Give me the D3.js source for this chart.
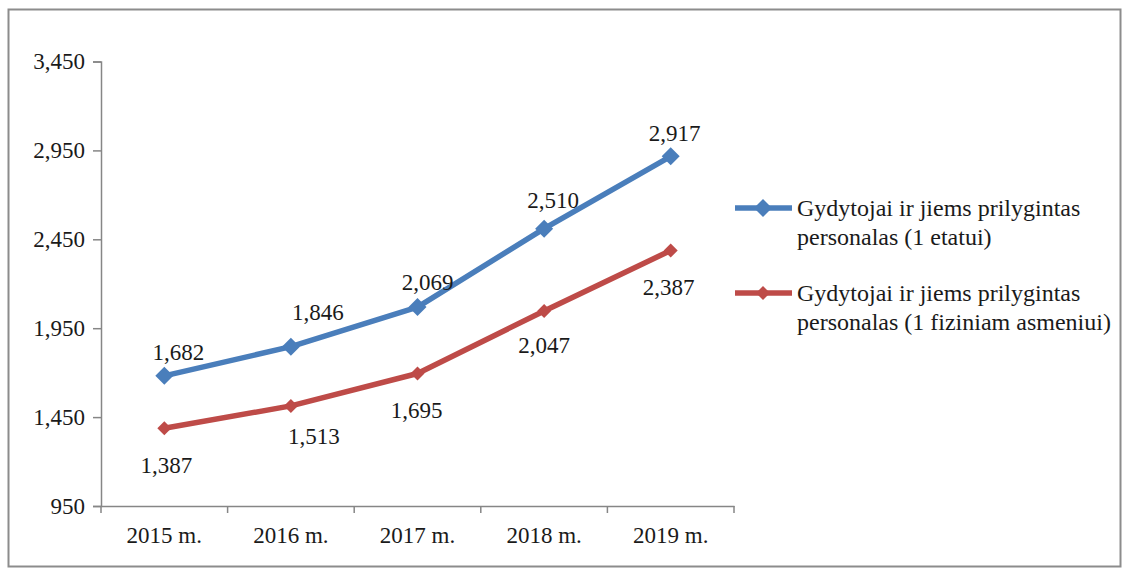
<!DOCTYPE html>
<html><head><meta charset="utf-8">
<script src="https://cdn.jsdelivr.net/npm/d3@7"></script>
<style>body{margin:0;background:#fff}svg{display:block}</style>
</head><body><svg id="c" width="1126" height="569"></svg>
<script>
const categories = ["2015 m.","2016 m.","2017 m.","2018 m.","2019 m."];
const seriesNames = ["Gydytojai ir jiems prilygintas personalas (1 etatui)","Gydytojai ir jiems prilygintas personalas (1 fiziniam asmeniui)"];
const etatui = [1682,1846,2069,2510,2917];
const fiziniam = [1387,1513,1695,2047,2387];
const yTicks = [950,1450,1950,2450,2950,3450];

const FONT = "'Liberation Serif'";
const svg = d3.select("#c");
const colors = ["#4A7EBB","#BE4B48"];
const fs = 23;
svg.append("rect").attr("x",8.5).attr("y",9.5).attr("width",1112).attr("height",557)
  .attr("fill","#fff").attr("stroke","#8c8c8c").attr("stroke-width",2);

const x = d3.scaleBand().domain(categories).range([101,734]);
const y = d3.scaleLinear().domain([950,3450]).range([506,61.5]);
const fmt = d3.format(",");

const axisCol = "#868686";
const gy = svg.append("g").attr("transform","translate(101,0)")
  .call(d3.axisLeft(y).tickValues(yTicks).tickFormat(fmt).tickSize(8).tickPadding(8));
const gx = svg.append("g").attr("transform","translate(0,506)")
  .call(d3.axisBottom(x).tickSize(0).tickPadding(20));
[gy,gx].forEach(g=>{
  g.attr("font-family",null).attr("font-size",null);
  g.select(".domain").attr("stroke",axisCol).attr("stroke-width",1.5);
  g.selectAll(".tick line").attr("stroke",axisCol).attr("stroke-width",1.5);
  g.selectAll("text").style("font-family",FONT).attr("font-size",fs).attr("fill","#1a1a1a");
});
gx.selectAll("text").attr("dy",null).attr("y",29).attr("dominant-baseline","central");
// category separator ticks
gx.selectAll(".sep").data(categories).join("line").attr("class","sep")
  .attr("x1",d=>x(d)+x.bandwidth()).attr("x2",d=>x(d)+x.bandwidth())
  .attr("y1",0).attr("y2",7).attr("stroke",axisCol).attr("stroke-width",1.5);
gx.append("line").attr("x1",101).attr("x2",101).attr("y1",0).attr("y2",7).attr("stroke",axisCol).attr("stroke-width",1.5);

const cx = d => x(d)+x.bandwidth()/2;
const series = [etatui, fiziniam];
const markerSize = [18,14];
const labelOff = [
  [[14,-23],[27,-34],[10,-25],[9,-28],[4,-23]],
  [[2,37],[23,31],[-1,37],[0,35],[-2,37]]
];
series.forEach((vals,si)=>{
  const pts = categories.map((c,i)=>[cx(c), y(vals[i])]);
  svg.append("path").attr("d",d3.line()(pts)).attr("fill","none")
    .attr("stroke",colors[si]).attr("stroke-width",5.5).attr("stroke-linejoin","round");
  const s = markerSize[si]/2;
  svg.selectAll(null).data(pts).join("path")
    .attr("d",p=>`M${p[0]},${p[1]-s}L${p[0]+s},${p[1]}L${p[0]},${p[1]+s}L${p[0]-s},${p[1]}Z`)
    .attr("fill",colors[si]);
  svg.selectAll(null).data(pts).join("text")
    .attr("x",(p,i)=>p[0]+labelOff[si][i][0]).attr("y",(p,i)=>p[1]+labelOff[si][i][1])
    .attr("text-anchor","middle").attr("dominant-baseline","central")
    .style("font-family",FONT).attr("font-size",fs).attr("fill","#1a1a1a")
    .text((p,i)=>fmt(vals[i]));
});

// legend
const legY = [208,293];
seriesNames.forEach((name,si)=>{
  const ly = legY[si];
  const g = svg.append("g");
  g.append("line").attr("x1",735).attr("x2",792).attr("y1",ly).attr("y2",ly)
    .attr("stroke",colors[si]).attr("stroke-width",5.5);
  const s = markerSize[si]/2, mx=763;
  g.append("path").attr("d",`M${mx},${ly-s}L${mx+s},${ly}L${mx},${ly+s}L${mx-s},${ly}Z`).attr("fill",colors[si]);
  const words = name.split(" ");
  const l1 = words.slice(0,4).join(" "), l2 = words.slice(4).join(" ");
  [l1,l2].forEach((t,k)=>g.append("text").attr("x",797).attr("y",ly+k*29)
    .attr("dominant-baseline","central").style("font-family",FONT).attr("font-size",24)
    .attr("fill","#1a1a1a").text(t));
});
</script></body></html>
